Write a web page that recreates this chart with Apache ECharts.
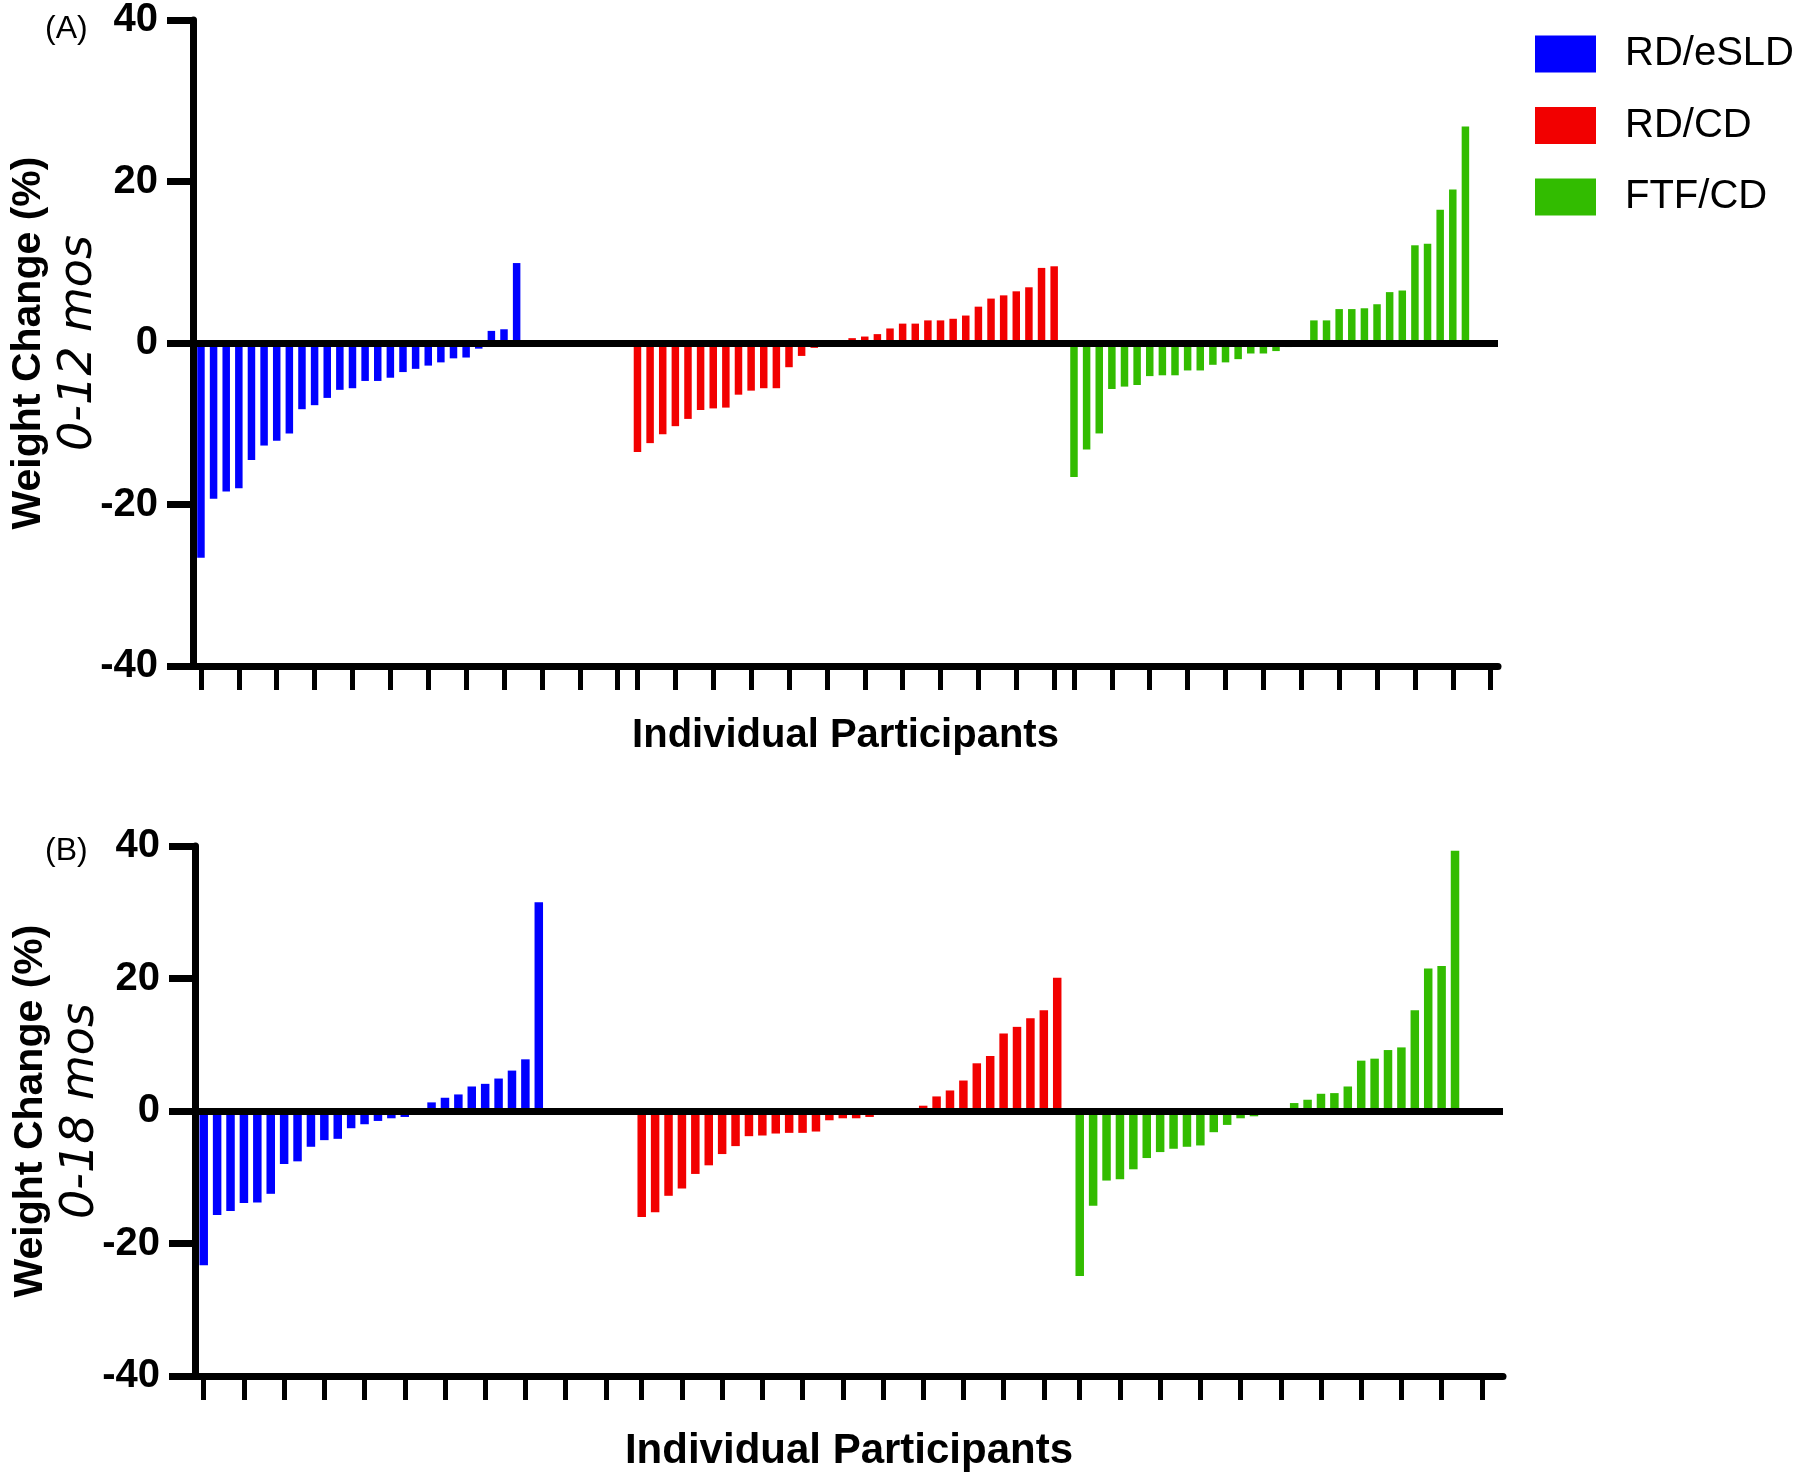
<!DOCTYPE html>
<html>
<head>
<meta charset="utf-8">
<script src="https://cdn.jsdelivr.net/npm/echarts@6/dist/echarts.min.js"></script>
<style>html,body{margin:0;padding:0;background:#fff}#c{width:1800px;height:1476px}</style>
</head>
<body>
<div id="c"></div>
<script>
// ---- data (weight change %, sorted participants per group) ----
const groupNames = ['RD/eSLD', 'RD/CD', 'FTF/CD'];
const yTicks = [-40, -20, 0, 20, 40];

// Panel A: 0-12 months
const blueA = [-26.6, -19.3, -18.4, -18.0, -14.5, -12.7, -12.1, -11.2, -8.2, -7.7, -6.8, -5.8, -5.6, -4.7, -4.7, -4.3, -3.6, -3.2, -2.8, -2.4, -1.9, -1.8, -0.7, 1.5, 1.7, 9.9];
const redA = [-13.5, -12.4, -11.3, -10.3, -9.4, -8.3, -8.1, -8.0, -6.4, -5.9, -5.6, -5.6, -3.0, -1.6, -0.6, 0, 0, 0.6, 0.8, 1.1, 1.8, 2.4, 2.4, 2.8, 2.8, 3.0, 3.4, 4.5, 5.5, 5.9, 6.4, 6.9, 9.3, 9.5];
const greenA = [-16.6, -13.2, -11.2, -5.7, -5.4, -5.2, -4.1, -4.0, -4.0, -3.4, -3.4, -2.7, -2.4, -2.0, -1.3, -1.3, -1.0, -0.5, 0, 2.8, 2.8, 4.2, 4.2, 4.3, 4.8, 6.3, 6.5, 12.1, 12.3, 16.5, 19.0, 26.8];

// Panel B: 0-18 months
const blueB = [-23.3, -15.7, -15.1, -13.9, -13.8, -12.5, -8.0, -7.6, -5.4, -4.4, -4.2, -2.6, -2.0, -1.5, -1.1, -0.9, 0, 1.3, 2.0, 2.5, 3.7, 4.1, 4.9, 6.1, 7.8, 31.5];
const redB = [-16.0, -15.3, -12.8, -11.7, -9.5, -8.2, -6.5, -5.3, -3.8, -3.7, -3.4, -3.3, -3.3, -3.1, -1.4, -1.1, -1.1, -0.9, 0, 0, 0, 0.8, 2.2, 3.1, 4.6, 7.2, 8.3, 11.7, 12.7, 14.0, 15.2, 20.1];
const greenB = [-24.9, -14.3, -10.5, -10.3, -8.8, -7.1, -6.2, -5.7, -5.4, -5.2, -3.2, -2.1, -1.1, -0.8, 0, 0, 1.2, 1.7, 2.6, 2.7, 3.7, 7.6, 7.9, 9.2, 9.6, 15.2, 21.5, 21.9, 39.3];

// ---- layout / style ----
const colors = ['#0000FF', '#F20000', '#32BC00'];
const FONT = '"Liberation Sans", Arial, Helvetica, sans-serif';
const SUBFONT = '"DejaVu Sans", "Liberation Sans", sans-serif';

const panels = [
  { label: '(A)', sub: '0-12 mos', groups: [blueA, redA, greenA], slots: 34, gap: 0.57,
    grid: { left: 193, top: 20, width: 1305, height: 646 }, labelTop: 8, barWidth: 7.5,
    xMin: -0.63, xMax: 102.72, nameGap: 50, nameSize: 40 },
  { label: '(B)', sub: '0-18 mos', groups: [blueB, redB, greenB], slots: 32, gap: 0.68,
    grid: { left: 195, top: 846, width: 1308, height: 530 }, labelTop: 830, barWidth: 8.5,
    xMin: -0.65, xMax: 96.94, nameGap: 54, nameSize: 42 }
];

const option = {
  backgroundColor: '#fff',
  animation: false,
  textStyle: { fontFamily: FONT },
  title: panels.map(p => ({
    text: p.label, left: 40, top: p.labelTop,
    textStyle: { fontSize: 32, fontWeight: 'normal', color: '#000', fontFamily: FONT }
  })),
  legend: {
    data: groupNames, orient: 'vertical', left: 1530, top: 29,
    itemWidth: 61, itemHeight: 37, itemGap: 31.5, icon: 'rect',
    textStyle: { fontSize: 40, lineHeight: 37, color: '#000', fontFamily: FONT, padding: [0, 0, 0, 24] }
  },
  grid: [], xAxis: [], yAxis: [], series: []
};

panels.forEach((p, pi) => {
  const stride = p.slots + p.gap;
  option.grid.push(Object.assign({ containLabel: false, outerBoundsMode: 'none' }, p.grid));
  const ticks = [];
  for (let g = 0; g < 3; g++) for (let j = 0; j < p.slots; j += 3) ticks.push(g * stride + j);
  option.xAxis.push({
    type: 'value', gridIndex: pi, min: p.xMin, max: p.xMax,
    name: 'Individual Participants', nameLocation: 'middle', nameGap: p.nameGap,
    nameTextStyle: { fontSize: p.nameSize, fontWeight: 'bold', color: '#000', fontFamily: FONT },
    axisLine: { onZero: false, lineStyle: { color: '#000', width: 7 } },
    axisTick: { show: true, customValues: ticks, length: 24, lineStyle: { color: '#000', width: 5 } },
    axisLabel: { show: false }, splitLine: { show: false }
  });
  option.yAxis.push({
    type: 'value', gridIndex: pi, min: yTicks[0], max: yTicks[yTicks.length - 1], interval: 20,
    name: '{b|Weight Change (%)}\n{i|' + p.sub + '}', nameLocation: 'middle', nameRotate: 90, nameGap: 88,
    nameMoveOverlap: false,
    nameTextStyle: {
      color: '#000', fontFamily: FONT, align: 'center',
      rich: {
        b: { fontSize: 41, fontWeight: 'bold', color: '#000', fontFamily: FONT, lineHeight: 51 },
        i: { fontSize: 46, fontStyle: 'italic', color: '#000', fontFamily: SUBFONT, lineHeight: 51 }
      }
    },
    axisLine: { show: true, onZero: false, lineStyle: { color: '#000', width: 7 } },
    axisTick: { show: true, length: 26, lineStyle: { color: '#000', width: 7 } },
    axisLabel: { fontSize: 40, fontWeight: 'bold', color: '#000', margin: 35, fontFamily: FONT },
    splitLine: { show: false }
  });
  p.groups.forEach((vals, g) => {
    const s = {
      type: 'bar', name: groupNames[g], xAxisIndex: pi, yAxisIndex: pi,
      barWidth: p.barWidth, barGap: '-100%', itemStyle: { color: colors[g] },
      data: vals.map((v, j) => [g * stride + j, v])
    };
    if (g === 2) {
      s.markLine = {
        silent: true, symbol: ['none', 'none'], z: 10,
        label: { show: false },
        lineStyle: { color: '#000', width: 7, type: 'solid' },
        emphasis: { disabled: true },
        data: [{ yAxis: 0 }]
      };
    }
    option.series.push(s);
  });
});

const chart = echarts.init(document.getElementById('c'), null, { renderer: 'canvas' });
chart.setOption(option);
</script>
</body>
</html>
